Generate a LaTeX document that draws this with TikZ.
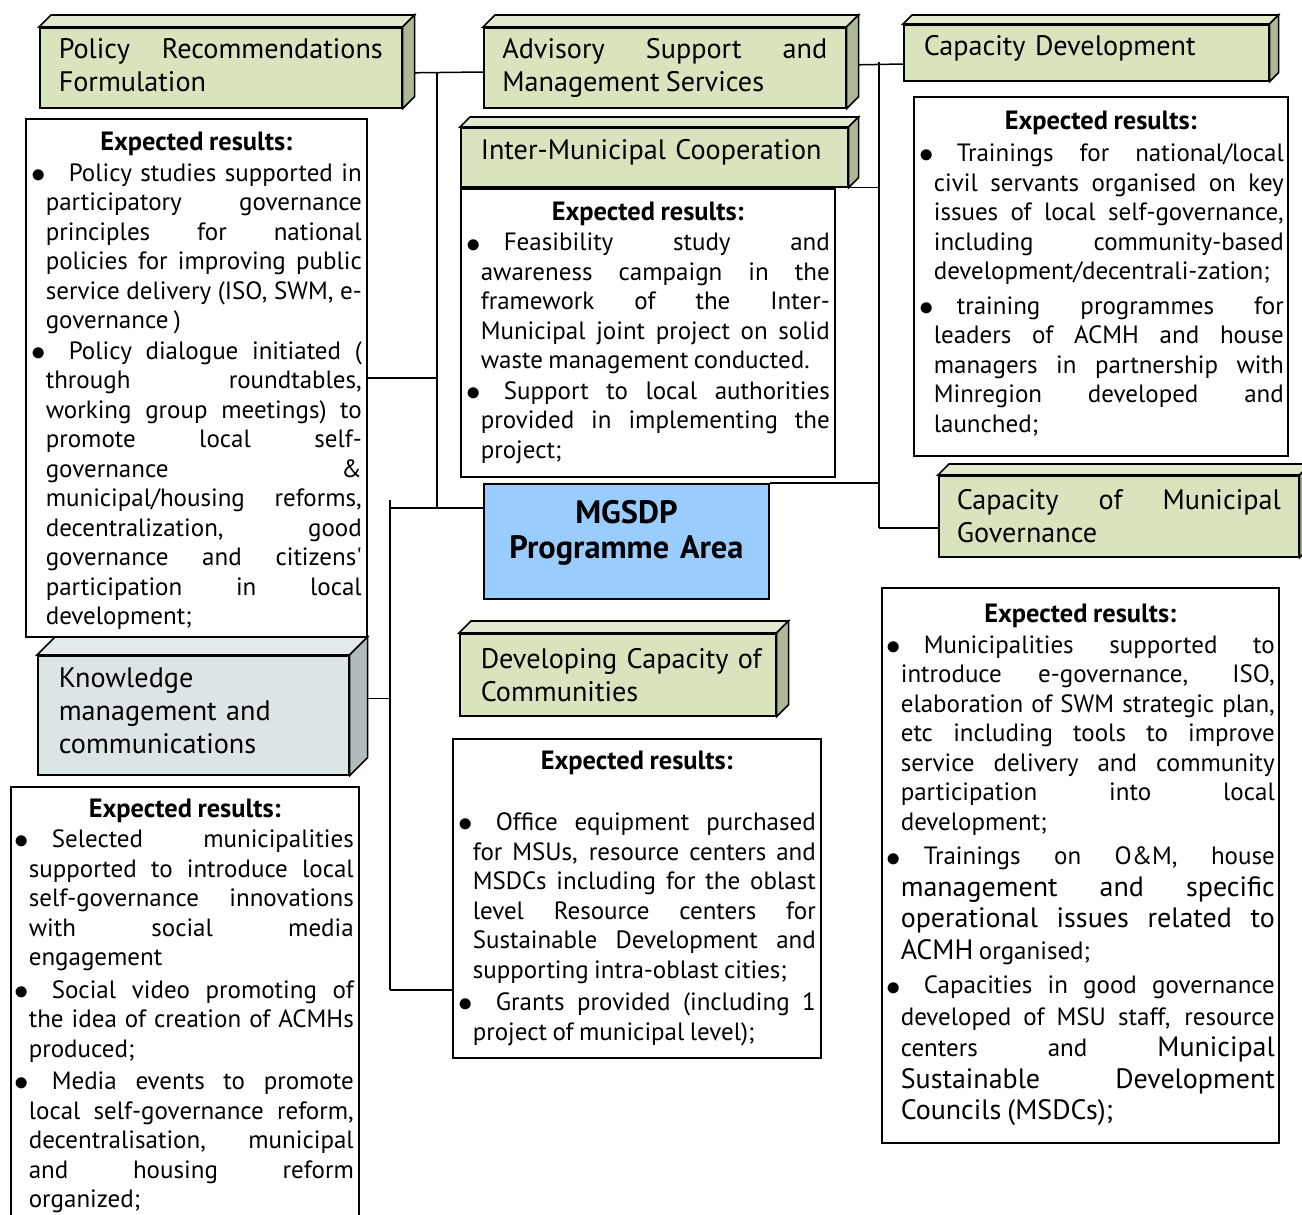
\documentclass[tikz,border=0pt]{standalone}
\usepackage{fontspec}
\setmainfont{PT Sans}[WordSpace={0.82,1.5,1.5}]

\definecolor{slabgreen}{HTML}{D7E4BD}
\definecolor{slabgreentop}{HTML}{E1EACF}
\definecolor{slabgreenside}{HTML}{ADB897}
\definecolor{slabgray}{HTML}{DBE5E6}
\definecolor{slabgraytop}{HTML}{E3EBEC}
\definecolor{slabgrayside}{HTML}{B1BBBC}
\definecolor{mgsdpblue}{HTML}{99CCFF}

\tikzset{
  slabline/.style={draw=black, line width=0.8pt},
  slab/.style={slabline, fill=slabgreen, anchor=north west, inner sep=0pt,
    font=\fontsize{14.1}{16.5}\selectfont},
  results/.style={slabline, fill=white, anchor=north west, inner sep=0pt,
    align=justify, font=\fontsize{12.5}{14.75}\selectfont},
  link/.style={line width=0.75pt},
}

\newcommand{\slabfaces}[4]{%
  \draw[slabline, fill=#3] (#1.north west) -- ++(#2,-#2)
    -- ([shift={(#2,-#2)}]#1.north east) -- (#1.north east) -- cycle;
  \draw[slabline, fill=#4] (#1.north east) -- ++(#2,-#2)
    -- ([shift={(#2,-#2)}]#1.south east) -- (#1.south east) -- cycle;}
\newcommand{\padbelow}[1]{\par\vspace{#1}\hrule height 0pt\relax}
\newcommand{\resset}[1]{\parindent=0pt\parskip=0.5pt\leftskip=#1\tolerance=10000
  \hbadness=10000\hfuzz=20pt\hyphenpenalty=10000\exhyphenpenalty=10000\relax}
\newcommand{\reshead}{{\centering\fontsize{13.2}{14.75}\selectfont\bfseries Expected results:\par}}
\newcommand{\itemdot}{\leavevmode\hspace*{-7pt}\makebox[18.5pt][l]{\raisebox{-0.6pt}{\fontsize{15}{15}\selectfont$\bullet$}}}
\newcommand{\bigtext}{\fontsize{14}{16}\selectfont}

\begin{document}
\begin{tikzpicture}[x=0.5pt, y=-0.5pt]
   \useasboundingbox (0,0) rectangle (1302,1215);

   \node[slab, minimum width=181pt, minimum height=40pt, text width=162pt, align=justify]
     (policy) at (39,27) {Policy Recommendations\linebreak Formulation\padbelow{3pt}};
   \node[slab, minimum width=181pt, minimum height=40pt, text width=162.5pt, align=justify]
     (advisory) at (483,27) {Advisory Support and\linebreak Management Services};
   \node[slab, minimum width=193.5pt, minimum height=29.5pt, text width=173.5pt, align=left]
     (intermun) at (460,127) {\mbox{Inter-Municipal Cooperation}\padbelow{5pt}};
   \node[slab, minimum width=182.5pt, minimum height=28pt, text width=162.5pt, align=left]
     (capdev) at (903,24) {Capacity Development\padbelow{4pt}};
   \node[slab, minimum width=180pt, minimum height=40.5pt, text width=162pt, align=justify]
     (capmun) at (938,475) {Capacity of Municipal\linebreak Governance};
   \node[slab, fill=slabgray, minimum width=155.5pt, minimum height=59.5pt, text width=134.5pt, align=left]
     (knowledge) at (37,655) {Knowledge\\ management and\\ communications\padbelow{5pt}};
   \node[slab, minimum width=158pt, minimum height=41pt, text width=137pt, align=left]
     (developing) at (459,633) {\mbox{Developing Capacity of}\\ Communities};
   \node[slabline, fill=mgsdpblue, anchor=north west, minimum width=140pt, minimum height=57.5pt,
     text width=136pt, align=center, font=\fontsize{16.2}{17.5}\selectfont\bfseries]
     (mgsdp) at (483,483) {MGSDP\\ Programme Area\padbelow{8pt}};

   \slabfaces{policy}{12}{slabgreentop}{slabgreenside}
   \slabfaces{advisory}{12}{slabgreentop}{slabgreenside}
   \slabfaces{intermun}{10}{slabgreentop}{slabgreenside}
   \slabfaces{capdev}{9}{slabgreentop}{slabgreenside}
   \slabfaces{capmun}{11}{slabgreentop}{slabgreenside}
   \slabfaces{knowledge}{18}{slabgraytop}{slabgrayside}
   \slabfaces{developing}{12}{slabgreentop}{slabgreenside}

   \node[results, minimum width=170.5pt, minimum height=259pt, text width=165.5pt]
     (polres) at (25,118) {\resset{7.5pt}\reshead
     \itemdot Policy studies supported in\linebreak participatory governance\linebreak
     principles for national\linebreak policies for improving public\linebreak
     service delivery (ISO, SWM, e-\linebreak governance )\par
     \itemdot Policy dialogue initiated (\linebreak through roundtables,\linebreak
     working group meetings) to\linebreak promote local self-\linebreak
     governance \&\linebreak municipal/housing reforms,\linebreak
     decentralization, good\linebreak governance and citizens\textquotesingle\linebreak
     participation in local\linebreak development;\padbelow{-3pt}};
   \node[results, minimum width=187pt, minimum height=144pt, text width=182pt]
     (interres) at (460,188) {\resset{7.5pt}\reshead
     \itemdot Feasibility study and\linebreak awareness campaign in the\linebreak
     framework of the Inter-\linebreak Municipal joint project on solid\linebreak
     waste management conducted.\par
     \itemdot Support to local authorities\linebreak provided in implementing the\linebreak
     project;\par};
   \node[results, minimum width=187pt, minimum height=179.5pt, text width=183pt]
     (capdevres) at (913,96) {\resset{8pt}\reshead\vspace{1pt}
     \itemdot Trainings for national/local\linebreak civil servants organised on key\linebreak
     issues of local self-governance,\linebreak including community-based\linebreak
     development/decentrali-zation;\par\vspace{2pt}
     \itemdot training programmes for\linebreak leaders of ACMH and house\linebreak
     managers in partnership with\linebreak Minregion developed and\linebreak
     launched;\padbelow{3pt}};
   \node[results, minimum width=198.5pt, minimum height=277.5pt, text width=194.5pt]
     (capmunres) at (881,587) {\resset{7.5pt}\reshead
     \itemdot Municipalities supported to\linebreak introduce e-governance, ISO,\linebreak
     elaboration of SWM strategic plan,\linebreak etc including tools to improve\linebreak
     service delivery and community\linebreak participation into local\linebreak
     development;\par\vspace{1pt}
     {\baselineskip=15.75pt \itemdot Trainings on O\&M, house\linebreak
     {\bigtext management and specific\linebreak operational issues related to\linebreak
     ACMH} organised;\par}\vspace{1pt}
     {\baselineskip=15.75pt \itemdot Capacities in good governance\linebreak
     developed of MSU staff, resource\linebreak centers and {\bigtext Municipal}\linebreak
     {\bigtext Sustainable Development\linebreak Councils (MSDCs);}\par}};
   \node[results, minimum width=174pt, minimum height=222pt, text width=169pt]
     (knowres) at (10,786) {\resset{6.5pt}\reshead
     \itemdot Selected municipalities\linebreak supported to introduce local\linebreak
     self-governance innovations\linebreak with social media\linebreak
     engagement\par\vspace{1pt}
     \itemdot Social video promoting of\linebreak the idea of creation of ACMHs\linebreak
     produced;\par\vspace{1pt}
     \itemdot Media events to promote\linebreak local self-governance reform,\linebreak
     decentralisation, municipal\linebreak and housing reform\linebreak
     organized;\padbelow{3pt}};
   \node[results, minimum width=184pt, minimum height=159.5pt, text width=179pt]
     (devres) at (452,738) {\resset{7.5pt}\reshead\mbox{}\par
     \itemdot Office equipment purchased\linebreak for MSUs, resource centers and\linebreak
     MSDCs including for the oblast\linebreak level Resource centers for\linebreak
     Sustainable Development and\linebreak supporting intra-oblast cities;\par\vspace{1pt}
     \itemdot Grants provided (including 1\linebreak project of municipal level);\par};

   \coordinate (ltop) at (437,72);
   \coordinate (lmid) at (437,508);
   \coordinate (lbot) at (390,990);
   \coordinate (rtop) at (879,62);
   \coordinate (rbot) at (879,528);
   \coordinate (kside) at ([shift={(18,-17)}]knowledge.east);

   \draw[link] ([shift={(12,5)}]policy.east) -- (advisory.west |- ltop);
   \draw[link] (ltop) -- (lmid);
   \draw[link] (polres.east) -- (polres.east -| ltop);
   \draw[link] (lbot |- 0,500) -- (lbot);
   \draw[link] (lbot |- lmid) -- (mgsdp.west |- lmid);
   \draw[link] (kside) -- (kside -| lbot);
   \draw[link] (lbot) -- (devres.west |- lbot);

   \draw[link] ([shift={(12,-3)}]advisory.east) -- (capdev.west |- 0,64);
   \draw[link] (rtop) -- (rbot);
   \draw[link] (intermun.south east) -- (intermun.south east -| rtop);
   \draw[link] (mgsdp.north east) -- (mgsdp.north east -| rtop);
   \draw[link] (rbot) -- (capmun.west |- rbot);
\end{tikzpicture}
\end{document}
